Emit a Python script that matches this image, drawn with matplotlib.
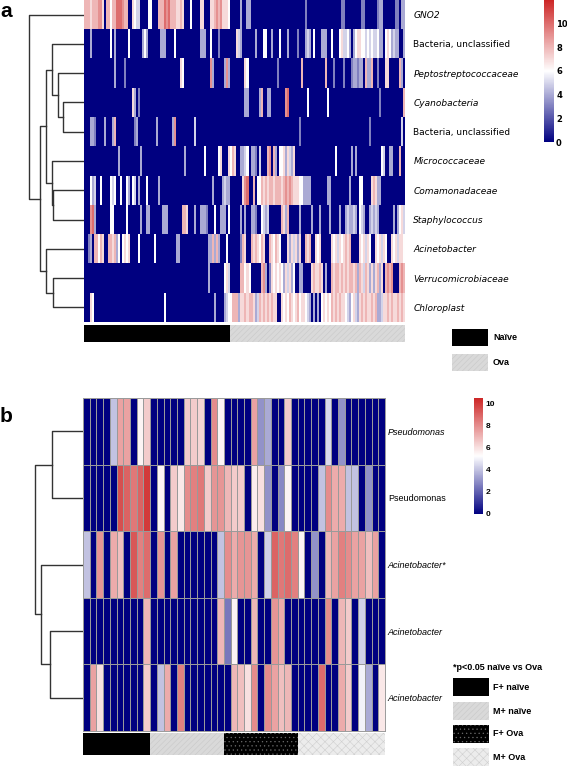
import matplotlib
matplotlib.use("Agg")
import matplotlib.pyplot as plt
from matplotlib.colors import LinearSegmentedColormap
from matplotlib.patches import Rectangle
import numpy as np

W, H = 567, 766

# ---- panel a data ----
taxa_a = ["GNO2", "Bacteria, unclassified", "Peptostreptococcaceae", "Cyanobacteria",
          "Bacteria, unclassified", "Micrococcaceae", "Comamonadaceae", "Staphylococcus",
          "Acinetobacter", "Verrucomicrobiaceae", "Chloroplast"]
italic_a = [True, False, True, True, False, True, True, True, True, True, True]
# one char per sample, value 0-11 (hex digit)
rows_a = [
    "8887888997 088688aaa9 8800765500 0066000888 a9a8887787 0006000077 0007789897 7760000040 "
    "0440000000 0000000000 0000000000 3000000000 0000000033 0000000033 0000003440 0000033044",
    "0004000000 0006040000 0060000004 6400000044 4000060000 0000000044 4006000300 0000007540 "
    "0000040006 6004000600 0400003000 4540600044 4006000675 5640467766 5656556440 6764544004",
    "0000000000 0000040000 3000000000 0000000000 0000000076 0000000000 0009400000 4940000000 "
    "7600000000 0000003000 0000000080 0000000000 8000300003 0003443440 8448003000 7700000840",
    "0000000000 0000000000 0000740300 0000000000 0000000000 0000000000 0000000000 0000000000 "
    "4400000480 0440000000 9a00000000 0600000000 0600000000 0000000000 0000000300 0000000008",
    "0004430000 4000480000 0000034000 0000004000 0000490000 0000050000 0000000000 0000000000 "
    "0000000000 0000000000 0000000300 0000000000 0000000000 0000000000 0030000000 0000000050",
    "0000000000 0000000400 0000000040 0000000000 0000000000 4000000000 6000000670 0076870044 "
    "5604430500 0890840667 4754700000 0000000000 0000060000 0004040000 0000000065 0044000800",
    "0006450060 0006560060 0640650400 0600000400 0000000000 0000000000 0000400004 5440000007 "
    "9a00806687 8788788878 9898777664 4440000000 0440000000 0040000660 0007874400 0000000000",
    "0009a40000 0006600000 0600000040 0440000004 4400000008 8700040044 4300060044 4060000040 "
    "4004430065 4500000087 4800000400 0004000400 0040000400 4544540654 0045454000 0000404675",
    "0034088687 0088784606 7670000600 0000060000 0000004400 0000000000 0044848400 0600000038 "
    "7008787687 0087687600 0747574700 8780076700 0007675767 8780000767 5760076757 6007675776",
    "0000000000 0000000000 0000000000 0000000000 0000000000 0000000000 0040000000 6750000088 "
    "6760000089 4037676764 7574600440 0007877870 4008788787 8788784875 8747478470 8989000898",
    "0007600000 0000000000 0000000000 0000000000 6000000000 0000000000 0000040000 4566888477 "
    "8788745878 7878770076 7687678677 6540404067 6768787877 6546754787 8778784457 7878778787",
]
groups_a = ["Naïve", "Ova"]
group_sizes_a = [73, 87]
# (left, right, height) merges, leaves are row indices
merges_a = [(3, 4, 21), (2, 11, 26.5), (1, 12, 32), (6, 7, 31), (5, 14, 32.5),
            (13, 15, 38), (9, 10, 31), (8, 17, 38.3), (16, 18, 44), (0, 19, 55)]

# ---- panel b data ----
taxa_b = ["Pseudomonas", "Pseudomonas", "Acinetobacter*", "Acinetobacter", "Acinetobacter"]
italic_b = [True, False, True, True, True]
values_b = [
    [0, 0, 0, 0, 4, 7.5, 7.5, 0, 5.5, 6.5, 0, 0, 0, 0, 0, 6.5, 6.5, 6.3, 0, 8, 5.5, 0, 0,
     0, 0, 7.5, 3, 3.5, 0, 0, 6.5, 0, 0, 0, 0, 0, 4.5, 0, 3, 0, 0, 0, 0, 0, 0],
    [0, 0, 0, 0, 0, 9.5, 9, 8.5, 9, 10, 0, 5.5, 0, 6.5, 5.8, 8, 8.3, 8.5, 6.5, 7.8, 7.8, 7, 6.5,
     6.5, 0, 5.7, 6, 3, 0, 2.8, 5.5, 0, 0, 0, 0, 4, 8, 7.3, 7.3, 4, 4, 0, 3, 0, 0],
    [4, 0, 7.8, 0, 7.3, 6.8, 0, 9.3, 8.3, 8.8, 0, 7.8, 0, 7.5, 0, 0, 0, 0, 0, 0, 4, 8, 7.3,
     7.8, 7.8, 7.3, 0, 4.3, 9, 8.5, 8.8, 8.3, 5.5, 0, 3, 0, 7, 7.5, 8.3, 8, 7.5, 7.5, 6.8, 7.5, 0],
    [0, 0, 0, 0, 0, 0, 0, 0, 0, 7, 0, 0, 0, 0, 0, 0, 0, 0, 0, 0, 7, 2.5, 5.5,
     0, 0, 7, 0, 0, 7.8, 7.3, 0, 0, 0, 0, 0, 0, 8, 0, 7, 6.5, 0, 4.3, 0, 0, 0],
    [0, 7.5, 6, 0, 0, 0, 0, 0, 0, 6.5, 0, 4, 7.3, 0, 8.3, 0, 0, 0, 0, 0, 0, 0, 7,
     6.8, 6, 8, 0, 8, 7.5, 6.8, 7, 0, 0, 0, 0, 8.8, 0, 0, 7.3, 6.5, 0, 5, 3.5, 0, 5.8],
]
groups_b = ["F+ naïve", "M+ naïve", "F+ Ova", "M+ Ova"]
group_sizes_b = [10, 11, 11, 13]
merges_b = [(0, 1, 31), (3, 4, 33), (2, 6, 42), (5, 7, 48)]

cmap = LinearSegmentedColormap.from_list("nwr", ["#000080", "#ffffff", "#cd2626"])
plt.rcParams["hatch.linewidth"] = 0.4

fig = plt.figure(figsize=(W / 100, H / 100), dpi=100)


def px_axes(x0, y0, x1, y1):
    ax = fig.add_axes([x0 / W, 1 - y1 / H, (x1 - x0) / W, (y1 - y0) / H])
    return ax


def draw_dendrogram(ax, merges, n, width):
    pos = {i: i + 0.5 for i in range(n)}
    hgt = {i: 0.0 for i in range(n)}
    for k, (a, b, h) in enumerate(merges):
        ax.plot([hgt[a], h, h, hgt[b]], [pos[a], pos[a], pos[b], pos[b]],
                color="#333333", lw=1)
        pos[n + k] = (pos[a] + pos[b]) / 2
        hgt[n + k] = h
    ax.set_xlim(width, 0)
    ax.set_ylim(n, 0)
    ax.axis("off")


def legend_box(x0, y0, x1, y1, label, fs=6.5, **style):
    fig.add_artist(Rectangle((x0 / W, 1 - y1 / H), (x1 - x0) / W, (y1 - y0) / H,
                             transform=fig.transFigure, lw=0, **style))
    fig.text(493 / W, 1 - (y0 + y1) / 2 / H, label, fontsize=fs, fontweight="bold",
             family="Liberation Sans", va="center", ha="left")


# ---------------- panel a ----------------
data_a = np.array([[int(c, 16) for c in r.replace(" ", "")] for r in rows_a], dtype=float)
ncol_a = data_a.shape[1]

ax = px_axes(84, 0, 405, 322)
im_a = ax.imshow(data_a, cmap=cmap, vmin=0, vmax=12, aspect="auto",
                 interpolation="nearest", extent=(0, ncol_a, len(taxa_a), 0))
ax.set_xticks([])
ax.yaxis.tick_right()
ax.set_yticks(np.arange(len(taxa_a)) + 0.5)
ax.set_yticklabels(taxa_a, fontsize=6.5, family="DejaVu Sans")
for lab, it in zip(ax.get_yticklabels(), italic_a):
    lab.set_fontstyle("italic" if it else "normal")
ax.tick_params(axis="y", length=0, pad=6)
for s in ax.spines.values():
    s.set_visible(False)

dax = px_axes(0, 0, 84, 322)
draw_dendrogram(dax, merges_a, len(taxa_a), 84)

bax = px_axes(84, 325, 405, 342)
left = np.concatenate([[0], np.cumsum(group_sizes_a)[:-1]])
bax.barh(0, group_sizes_a, left=left, height=1, color=["black", "#d9d9d9"],
         hatch=[None, "//////"], edgecolor=["black", "#c8c8c8"], lw=0)
bax.set_xlim(0, ncol_a)
bax.set_ylim(-0.5, 0.5)
bax.axis("off")

cax = px_axes(544, 0, 554, 142)
cb = fig.colorbar(im_a, cax=cax, ticks=[0, 2, 4, 6, 8, 10])
cb.outline.set_visible(False)
cax.tick_params(length=0, pad=1.5, labelsize=6)
for t in cax.get_yticklabels():
    t.set_fontweight("bold")

legend_box(452, 329, 488, 346, groups_a[0], color="black")
legend_box(452, 354, 488, 371, groups_a[1], facecolor="#d9d9d9", edgecolor="#c8c8c8",
           hatch="//////")

fig.text(0 / W, 1 - 17 / H, "a", fontsize=15, fontweight="bold", family="Liberation Sans",
         va="baseline")

# ---------------- panel b ----------------
data_b = np.array(values_b)
ncol_b = data_b.shape[1]

ax = px_axes(83, 398, 385, 731)
mesh = ax.pcolormesh(data_b, cmap=cmap, vmin=0, vmax=10.5, edgecolors="#9a9a9a", lw=0.7)
ax.set_xlim(0, ncol_b)
ax.set_ylim(len(taxa_b), 0)
ax.set_xticks([])
ax.yaxis.tick_right()
ax.set_yticks(np.arange(len(taxa_b)) + 0.5)
ax.set_yticklabels(taxa_b, fontsize=6.5, family="Liberation Sans")
for lab, it in zip(ax.get_yticklabels(), italic_b):
    lab.set_fontstyle("italic" if it else "normal")
ax.tick_params(axis="y", length=0, pad=2)
for s in ax.spines.values():
    s.set_color("#9a9a9a")
    s.set_linewidth(0.7)

dax = px_axes(0, 398, 83, 731)
draw_dendrogram(dax, merges_b, len(taxa_b), 83)

bax = px_axes(83, 733, 385, 755)
left = np.concatenate([[0], np.cumsum(group_sizes_b)[:-1]])
bax.barh(0, group_sizes_b, left=left, height=1,
         color=["black", "#d9d9d9", "black", "#ececec"],
         hatch=[None, "//////", "....", "xxxx"],
         edgecolor=["black", "#c8c8c8", "#6a6a6a", "#cfcfcf"], lw=0)
bax.set_xlim(0, ncol_b)
bax.set_ylim(-0.5, 0.5)
bax.axis("off")

cax = px_axes(474, 398, 483, 514)
cb = fig.colorbar(mesh, cax=cax, ticks=[0, 2, 4, 6, 8, 10])
cb.outline.set_visible(False)
cax.tick_params(length=0, pad=2, labelsize=6)
for t in cax.get_yticklabels():
    t.set_fontweight("bold")
    t.set_family("Liberation Sans")

fig.text(453 / W, 1 - 667 / H, "*p<0.05 naïve vs Ova", fontsize=6.5, fontweight="bold",
         family="Liberation Sans", va="center", ha="left")
legend_box(453, 678, 489, 696, groups_b[0], color="black")
legend_box(453, 702, 489, 720, groups_b[1], facecolor="#d9d9d9", edgecolor="#c8c8c8",
           hatch="//////")
legend_box(453, 725, 489, 743, groups_b[2], facecolor="black", edgecolor="#6a6a6a",
           hatch="....")
legend_box(453, 748, 489, 766, groups_b[3], facecolor="#ececec", edgecolor="#cfcfcf",
           hatch="xxxx")

fig.text(0 / W, 1 - 422 / H, "b", fontsize=15, fontweight="bold", family="Liberation Sans",
         va="baseline")

fig.savefig("out.png", dpi=100)
